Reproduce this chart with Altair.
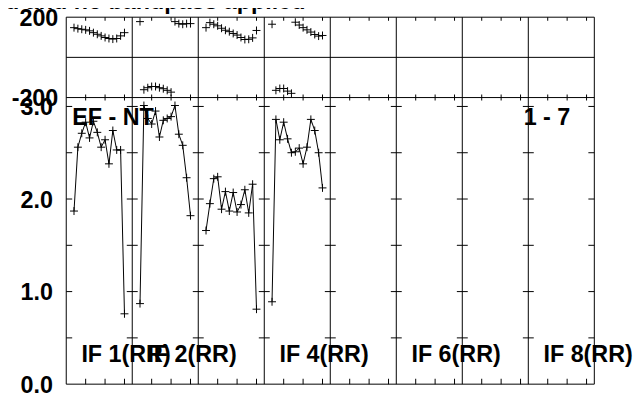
import altair as alt
import pandas as pd

# ---------------- data ----------------
channels = list(range(2, 16))

amp_if1 = [1.87, 2.56, 2.71, 2.83, 2.66, 2.84, 2.72, 2.56, 2.64, 2.38, 2.74, 2.53, 2.53, 0.76]
amp_if2 = [0.87, 3.01, 2.87, 2.81, 2.95, 2.67, 2.85, 2.87, 2.89, 3.01, 2.70, 2.58, 2.23, 1.82]
amp_if3 = [1.66, 1.95, 2.22, 2.24, 1.89, 2.08, 1.87, 2.07, 1.86, 1.94, 2.10, 1.85, 2.16, 0.81]
amp_if4 = [0.89, 2.86, 2.64, 2.83, 2.65, 2.50, 2.51, 2.55, 2.38, 2.56, 2.86, 2.74, 2.50, 2.12]

phase_if1 = [148, 143, 140, 137, 132, 123, 115, 107, 99, 94, 91, 94, 107, 123]
phase_if2 = [178, -161, -151, -145, -145, -151, -156, -164, -173, 178, 168, 165, 168, 168]
phase_if3 = [148, 173, 165, 157, 145, 135, 128, 119, 111, 99, 89, 90, 97, 134]
phase_if4 = [165, -164, -155, -155, -168, -179, 175, 161, 148, 137, 126, 114, 106, 109]

amp_series = [amp_if1, amp_if2, amp_if3, amp_if4]
phase_series = [phase_if1, phase_if2, phase_if3, phase_if4]

if_label_panels = [1, 2, 4, 6, 8]
if_label_texts = ["IF 1(RR)", "IF 2(RR)", "IF 4(RR)", "IF 6(RR)", "IF 8(RR)"]

amp_tick_values = [0.5, 1.0, 1.5, 2.0, 2.5, 3.0]
amp_label_values = [0.0, 1.0, 2.0, 3.0]
amp_label_texts = ["0.0", "1.0", "2.0", "3.0"]
phase_label_values = [200, -200]
phase_label_texts = ["200", "-200"]
chan_tick_values = [5, 10, 15]

title_text = "ed and no bandpass applied"
source_text = "EF - NT"
range_text = "1 - 7"

# ---------------- layout ----------------
N_PANELS = 8
CHAN_SPAN = 17
W = 532.3
PH_H = 81.0
AMP_H = 288.9
H = PH_H + AMP_H
AMP_TOP = 3.096
FONT = "Liberation Sans"
FS = 23.5

X_DOMAIN = [0, N_PANELS * CHAN_SPAN]


def xenc(field="x"):
    return alt.X(f"{field}:Q", scale=alt.Scale(domain=X_DOMAIN, nice=False, zero=False), axis=None)


def yph(field="p"):
    return alt.Y(f"{field}:Q", scale=alt.Scale(domain=[-200, 200], range=[PH_H, 0], nice=False, zero=False), axis=None)


def yam(field="a"):
    return alt.Y(f"{field}:Q", scale=alt.Scale(domain=[0, AMP_TOP], range=[H, PH_H], nice=False, zero=False), axis=None)


# ---------------- tables ----------------
amp_rows, ph_rows = [], []
for i, vals in enumerate(amp_series):
    for c, v in zip(channels, vals):
        amp_rows.append({"panel": i, "x": i * CHAN_SPAN + c, "a": v})
for i, vals in enumerate(phase_series):
    for c, v in zip(channels, vals):
        ph_rows.append({"panel": i, "x": i * CHAN_SPAN + c, "p": v})
amp_df = pd.DataFrame(amp_rows)
ph_df = pd.DataFrame(ph_rows)

bounds = [k * CHAN_SPAN for k in range(N_PANELS + 1)]
bound_df = pd.DataFrame({"x": bounds})
hph_df = pd.DataFrame({"p": [200, 0, -200]})
ham_df = pd.DataFrame({"a": [0.0]})

ytick_in = pd.DataFrame([{"x": b, "a": t} for b in bounds[1:-1] for t in amp_tick_values])
ytick_left = pd.DataFrame([{"x": bounds[0], "a": t} for t in amp_tick_values])
ytick_right = pd.DataFrame([{"x": bounds[-1], "a": t} for t in amp_tick_values])

xt = [k * CHAN_SPAN + t for k in range(N_PANELS) for t in chan_tick_values]
xtick_top = pd.DataFrame({"x": xt, "p": 200})
xtick_mid = pd.DataFrame({"x": xt, "p": -200})
xtick_bot = pd.DataFrame({"x": xt, "a": 0.0})

amp_lab_df = pd.DataFrame({"x": 0, "a": amp_label_values, "t": amp_label_texts})
ph_lab_df = pd.DataFrame({"x": 0, "p": phase_label_values, "t": phase_label_texts})
if_df = pd.DataFrame({"x": [(k - 1) * CHAN_SPAN + 3.9 for k in if_label_panels], "a": 0.24, "t": if_label_texts})
src_df = pd.DataFrame({"x": [1.53], "a": [2.80], "t": [source_text]})
rng_df = pd.DataFrame({"x": [117.8], "a": [2.80], "t": [range_text]})
title_df = pd.DataFrame({"x": [61.6], "p": [200], "t": [title_text]})

BLACK = "black"
cross = "M-1,0L1,0M0,-1L0,1"

txt = dict(font=FONT, fontWeight="bold", fontSize=FS, color=BLACK)

layers = [
    alt.Chart(bound_df).mark_rule(color=BLACK, strokeWidth=1).encode(x=xenc()),
    alt.Chart(hph_df).mark_rule(color=BLACK, strokeWidth=1).encode(y=yph()),
    alt.Chart(ham_df).mark_rule(color=BLACK, strokeWidth=1).encode(y=yam()),
    alt.Chart(ytick_in).mark_tick(orient="horizontal", size=11, thickness=1, color=BLACK, opacity=1).encode(x=xenc(), y=yam()),
    alt.Chart(ytick_left).mark_tick(orient="horizontal", size=6, thickness=1, color=BLACK, opacity=1, xOffset=3).encode(x=xenc(), y=yam()),
    alt.Chart(ytick_right).mark_tick(orient="horizontal", size=6, thickness=1, color=BLACK, opacity=1, xOffset=-3).encode(x=xenc(), y=yam()),
    alt.Chart(xtick_top).mark_tick(orient="vertical", size=3.5, thickness=1, color=BLACK, opacity=1, yOffset=1.75).encode(x=xenc(), y=yph()),
    alt.Chart(xtick_mid).mark_tick(orient="vertical", size=6, thickness=1, color=BLACK, opacity=1).encode(x=xenc(), y=yph()),
    alt.Chart(xtick_bot).mark_tick(orient="vertical", size=5.5, thickness=1, color=BLACK, opacity=1, yOffset=-2.75).encode(x=xenc(), y=yam()),
    alt.Chart(amp_df).mark_line(color=BLACK, strokeWidth=1).encode(x=xenc(), y=yam(), detail="panel:N"),
    alt.Chart(amp_df).mark_point(shape=cross, size=64, filled=False, stroke=BLACK, strokeWidth=1, opacity=1).encode(x=xenc(), y=yam()),
    alt.Chart(ph_df).mark_point(shape=cross, size=64, filled=False, stroke=BLACK, strokeWidth=1, opacity=1).encode(x=xenc(), y=yph()),
    alt.Chart(amp_lab_df).mark_text(align="right", baseline="middle", dx=-13.4, dy=1.7, **txt).encode(x=xenc(), y=yam(), text="t:N"),
    alt.Chart(ph_lab_df).mark_text(align="right", baseline="middle", dx=-8, dy=2, **txt).encode(x=xenc(), y=yph(), text="t:N"),
    alt.Chart(if_df).mark_text(align="left", baseline="alphabetic", **txt).encode(x=xenc(), y=yam(), text="t:N"),
    alt.Chart(src_df).mark_text(align="left", baseline="alphabetic", **txt).encode(x=xenc(), y=yam(), text="t:N"),
    alt.Chart(rng_df).mark_text(align="left", baseline="alphabetic", **txt).encode(x=xenc(), y=yam(), text="t:N"),
    alt.Chart(title_df).mark_text(align="right", baseline="alphabetic", dy=-8.7, **txt).encode(x=xenc(), y=yph(), text="t:N"),
]

chart = (
    alt.layer(*layers)
    .resolve_scale(y="independent")
    .properties(
        width=W,
        height=H,
        autosize=alt.AutoSizeParams(type="none"),
        padding={"left": 58.7, "top": 7.7, "right": 40, "bottom": 16},
        background="white",
    )
    .configure_view(stroke=None)
)

chart.save("out.html", embed_options={"renderer": "svg", "actions": False})
